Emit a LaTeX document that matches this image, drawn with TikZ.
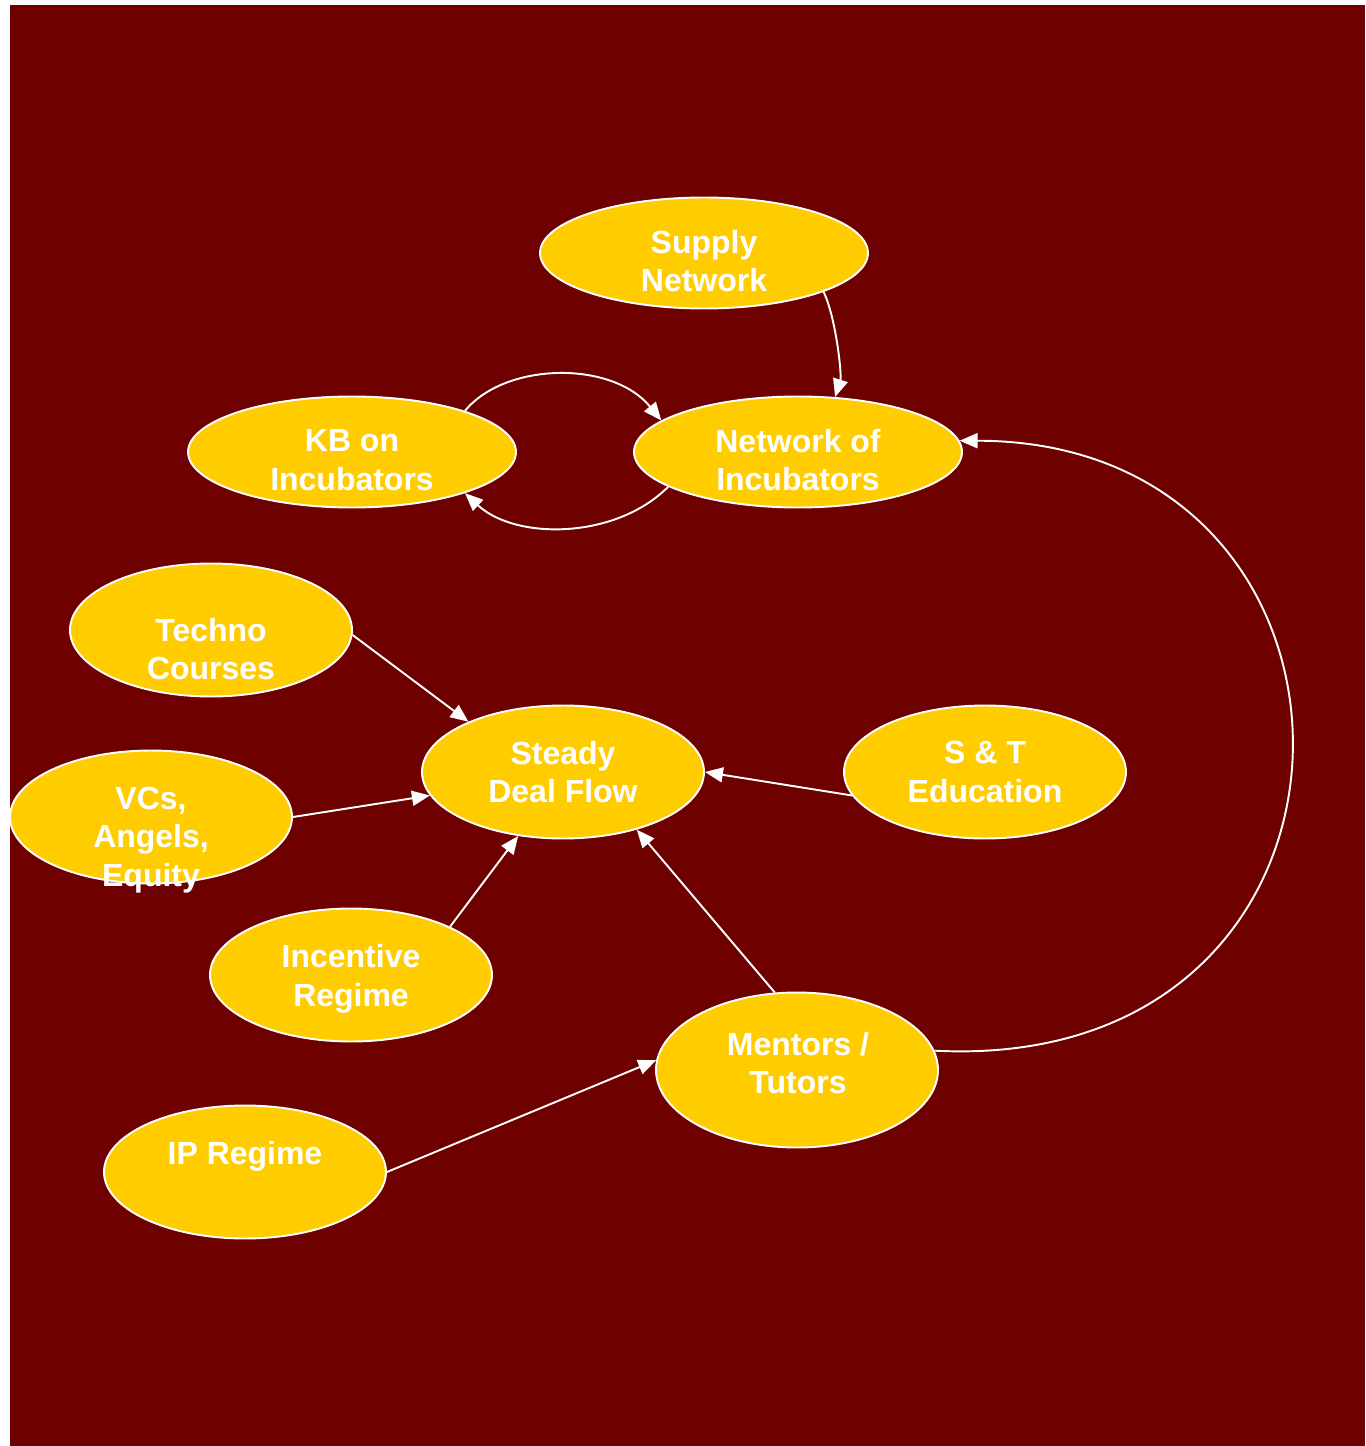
\documentclass[tikz,border=0pt]{standalone}
\usepackage{fontspec}
\setmainfont{Liberation Sans}
\usetikzlibrary{shapes.geometric,arrows.meta}
\definecolor{bgred}{RGB}{110,0,0}
\definecolor{blobyellow}{RGB}{255,204,0}

\begin{document}
\begin{tikzpicture}[x=0.02cm, y=-0.02cm,
    blob/.style={ellipse, fill=blobyellow, draw=white, line width=1.1pt, inner sep=0pt},
    wideblob/.style={blob, minimum width=6.56cm, minimum height=2.22cm},
    roundblob/.style={blob, minimum width=5.64cm, minimum height=2.66cm},
    txt/.style={text=white, align=center, font=\bfseries\fontsize{18.2}{21.9}\selectfont},
    arr/.style={draw=white, line width=1.1pt, -{Triangle[length=0.36cm,width=0.3cm]}}]

      % Background
      \useasboundingbox (0,0) rectangle (1365,1446);
      \fill[bgred] (10,5) rectangle (1365,1446);

      % Top row: incubators
      \node[wideblob] (supply) at (704,253) {};
      \node[wideblob] (kb) at (352,452) {};
      \node[wideblob] (netinc) at (798,452) {};
      \node[txt] (tsupply) at (704,261) {Supply\\Network};
      \node[txt] (tkb) at (352,460) {KB on\\Incubators};
      \node[txt] (tnetinc) at (798,460) {Network of\\Incubators};

      % Deal flow and its inputs
      \node[roundblob] (techno) at (211,630) {};
      \node[roundblob] (steady) at (563,772) {};
      \node[roundblob] (stedu) at (985,772) {};
      \node[roundblob] (vcs) at (151,817) {};
      \node[roundblob] (incentive) at (351,975) {};
      \node[roundblob, minimum height=3.1cm] (mentors) at (797,1070) {};
      \node[roundblob] (ipreg) at (245,1172) {};
      \node[txt] (ttechno) at (211,649) {Techno\\Courses};
      \node[txt] (tsteady) at (563,772) {Steady\\Deal Flow};
      \node[txt] (tstedu) at (985,772) {S \& T\\Education};
      \node[txt] (tvcs) at (151,840) {VCs,\\Angels,\\Equity};
      \node[txt] (tincentive) at (351,979) {Incentive\\Regime};
      \node[txt] (tmentors) at (798,1063) {Mentors /\\Tutors};
      \node[txt] (tipreg) at (245,1156) {IP Regime};

      % Connectors
      \draw[arr] (supply.-18) .. controls (836,318) and (842,375) .. (netinc.56);
      \draw[arr] (kb.20) .. controls (505,362) and (612,360) .. (netinc.167);
      \draw[arr] (netinc.-165) .. controls (615,540) and (515,540) .. (kb.-20);
      \draw[arr] (mentors.8) .. controls (1405,1075) and (1405,441) .. (netinc.4);

      \draw[arr] (techno.-2) -- (steady.152);
      \draw[arr] (vcs.east) -- (steady.190);
      \draw[arr] (incentive.26) -- (steady.-125);
      \draw[arr] (stedu.190) -- (steady.east);
      \draw[arr] (mentors.106) -- (steady.-38);
      \draw[arr] (ipreg.east) -- (mentors.176);

    \end{tikzpicture}
\end{document}
